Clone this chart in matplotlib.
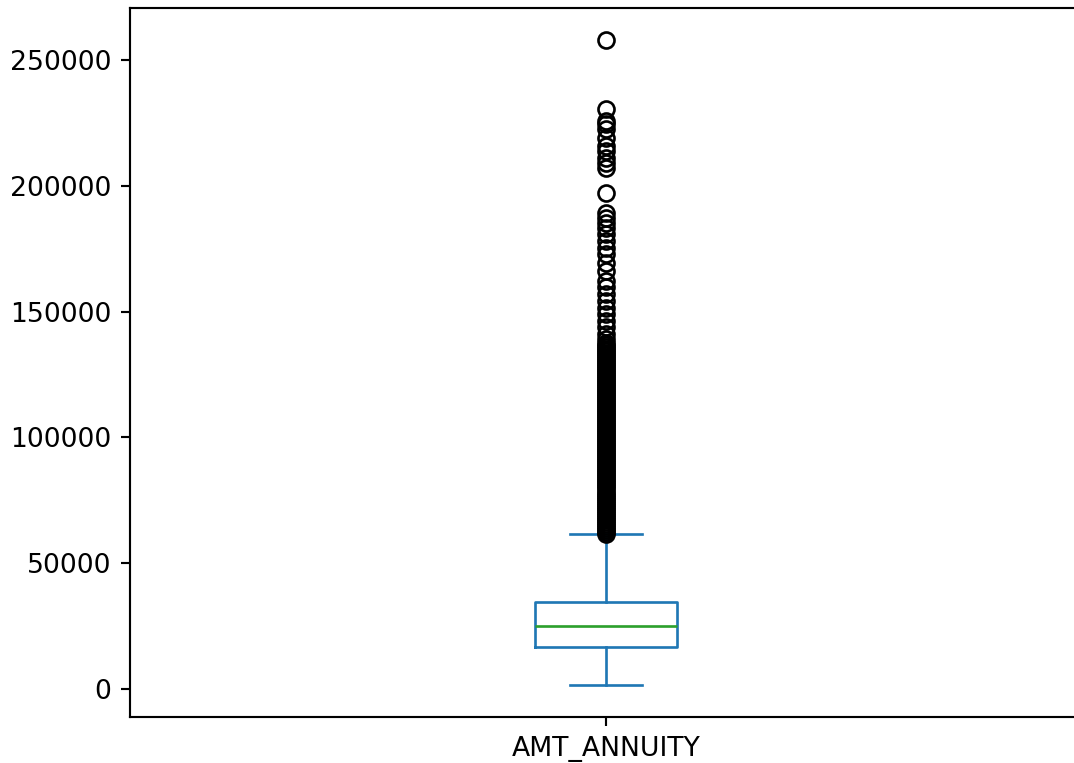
import numpy as np
import matplotlib
matplotlib.use("Agg")
import matplotlib.pyplot as plt

# -----------------------------
# AMT_ANNUITY summary statistics
# -----------------------------
column = "AMT_ANNUITY"
whislo = 1615.5
q1 = 16524.0
med = 24903.0
q3 = 34596.0
whishi = 61704.0

# dense run of outliers just above the upper whisker
fliers_dense = [
    61750, 62500, 63300, 64100, 64900, 65700, 66500, 67300, 68100, 68900,
    69700, 70500, 71300, 72100, 72900, 73700, 74500, 75300, 76100, 76900,
    77700, 78500, 79300, 80100, 80900, 81700, 82500, 83300, 84100, 84900,
    85700, 86500, 87300, 88100, 88900, 89700, 90500, 91300, 92100, 92900,
    93700, 94500, 95300, 96100, 96900, 97700, 98500, 99300, 100100, 100900,
    101700, 102500, 103300, 104100, 104900, 105700, 106500, 107300, 108100, 108900,
    109700, 110500, 111300, 112100, 112900, 113700, 114500, 115300, 116100, 116900,
    117700, 118500, 119300, 120100, 120900, 121700, 122500, 123300, 124100, 124900,
    125700, 126500, 127300, 128100, 128900, 129700, 130500, 131300, 132100, 132900,
    133700, 134500, 135300, 136100, 136900, 137700,
]
# sparse outliers higher up
fliers_sparse = [
    139300, 141300, 143800, 146400, 149000, 151700, 154400, 157000, 159700, 162300,
    166300, 169600, 172900, 175500, 178200, 180800, 183500, 185400, 187400, 189400,
    197300, 207300, 209000, 211300, 213900, 215900, 219000, 222600, 224600, 225800,
    230600, 258025.5,
]

stats = [{
    "label": column,
    "whislo": whislo,
    "q1": q1,
    "med": med,
    "q3": q3,
    "whishi": whishi,
    "fliers": np.array(fliers_dense + fliers_sparse),
}]

# -----------------------------
# 画图
# -----------------------------
W, H, DPI = 1074, 763, 192
fig = plt.figure(figsize=(W / DPI, H / DPI), dpi=DPI)
ax = fig.add_axes([130 / W, (H - 717) / H, 952 / W, 709 / H])

blue = "#1f77b4"
green = "#2ca02c"
ax.bxp(
    stats,
    positions=[1],
    widths=0.15,
    boxprops=dict(color=blue),
    whiskerprops=dict(color=blue),
    capprops=dict(color=blue),
    medianprops=dict(color=green),
    flierprops=dict(marker="o", markerfacecolor="none", markeredgecolor="black"),
)
ax.set_xlim(0.5, 1.5)
ax.set_yticks([0, 50000, 100000, 150000, 200000, 250000])
# the right edge of the axes falls past the figure border
ax.spines["right"].set_visible(False)

fig.savefig("out.png", dpi=DPI)
